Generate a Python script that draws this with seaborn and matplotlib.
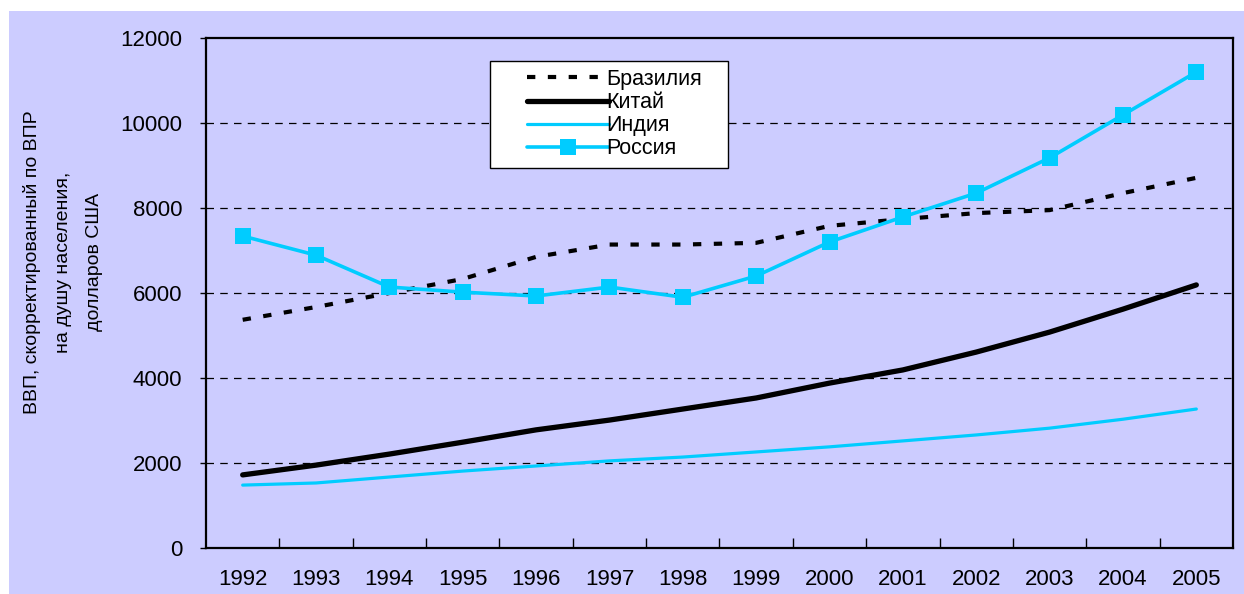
import matplotlib
matplotlib.use("Agg")
import matplotlib.pyplot as plt
import seaborn as sns
import pandas as pd
import numpy as np
from matplotlib.patches import Rectangle

years = ["1992", "1993", "1994", "1995", "1996", "1997", "1998", "1999",
         "2000", "2001", "2002", "2003", "2004", "2005"]
brazil = [5370, 5670, 6000, 6330, 6850, 7140, 7140, 7180, 7580, 7740, 7880, 7950, 8350, 8710]
china = [1720, 1950, 2210, 2490, 2780, 3010, 3270, 3530, 3880, 4190, 4610, 5080, 5620, 6190]
india = [1480, 1530, 1670, 1810, 1930, 2050, 2140, 2260, 2380, 2520, 2660, 2820, 3030, 3270]
russia = [7340, 6890, 6140, 6020, 5930, 6140, 5900, 6400, 7200, 7790, 8350, 9180, 10190, 11200]
labels = ["Бразилия", "Китай", "Индия", "Россия"]
ylabel = "ВВП, скорректированный по ВПР\nна душу населения,\nдолларов США"

sns.set_theme(style="white")
plt.rcParams['font.family'] = ['Liberation Sans', 'DejaVu Sans']
plt.rcParams['text.color'] = 'black'

bg = "#CCCCFF"
cyan = "#00CCFF"

fig = plt.figure(figsize=(12.44, 5.94), dpi=100, facecolor="white")
fig.patches.append(Rectangle((9/1244, 0), 1 - 9/1244, 1 - 11/594, transform=fig.transFigure,
                             facecolor=bg, edgecolor="none", zorder=-10))
ax = fig.add_axes([206/1244, 1 - 548/594, 1027/1244, 510/594])
ax.set_facecolor(bg)

x = np.arange(len(years))
df = pd.DataFrame({"x": x, "brazil": brazil, "china": china, "india": india, "russia": russia})

sns.lineplot(data=df, x="x", y="brazil", ax=ax, color="black", lw=3,
             linestyle=(0, (2, 3)), label=labels[0], zorder=3)
sns.lineplot(data=df, x="x", y="china", ax=ax, color="black", lw=3.8, label=labels[1], zorder=3)
sns.lineplot(data=df, x="x", y="india", ax=ax, color=cyan, lw=2.3, label=labels[2], zorder=3)
sns.lineplot(data=df, x="x", y="russia", ax=ax, color=cyan, lw=2.6, marker="s",
             markersize=11, markeredgewidth=0, label=labels[3], zorder=4)

ax.set_xlim(-0.5, 13.5)
ax.set_ylim(0, 12000)
ax.set_yticks(range(0, 12001, 2000))
ax.set_xticks(x)
ax.set_xticklabels(years)
ax.set_xticks(np.arange(0.5, 13, 1), minor=True)
ax.tick_params(axis="x", which="major", length=0, pad=15, labelsize=16, colors="black")
ax.tick_params(axis="x", which="minor", direction="in", length=7, width=1, color="black", bottom=True)
ax.tick_params(axis="y", which="major", direction="out", length=4, width=1, pad=13,
               labelsize=16, colors="black", left=True)
ax.set_xlabel("")
ax.set_ylabel("")

for y in range(2000, 12000, 2000):
    ax.axhline(y, color="black", lw=0.9, linestyle=(0, (6, 5)), zorder=1)

for s in ax.spines.values():
    s.set_visible(True)
    s.set_color("black")
    s.set_linewidth(1.6)

fig.text(63/1244, 1 - 262/594, ylabel, rotation=90, ha="center", va="center",
         multialignment="center", fontsize=14, color="black", linespacing=2.1)

# legend box
ax.add_patch(Rectangle((490/1244, 1 - 168/594), 238/1244, 107/594, transform=fig.transFigure,
                       facecolor="white", edgecolor="black", lw=1, zorder=8, clip_on=False))
leg = ax.legend(loc="upper left", bbox_to_anchor=(527/1244, 1 - 69/594),
                bbox_transform=fig.transFigure, fontsize=15.5, frameon=False,
                handlelength=3.8, handletextpad=-0.1, labelspacing=0.1,
                borderpad=0.0, borderaxespad=0)
leg.set_zorder(10)
for t in leg.get_texts():
    t.set_color("black")

fig.savefig("out.png", dpi=100, facecolor="white")
